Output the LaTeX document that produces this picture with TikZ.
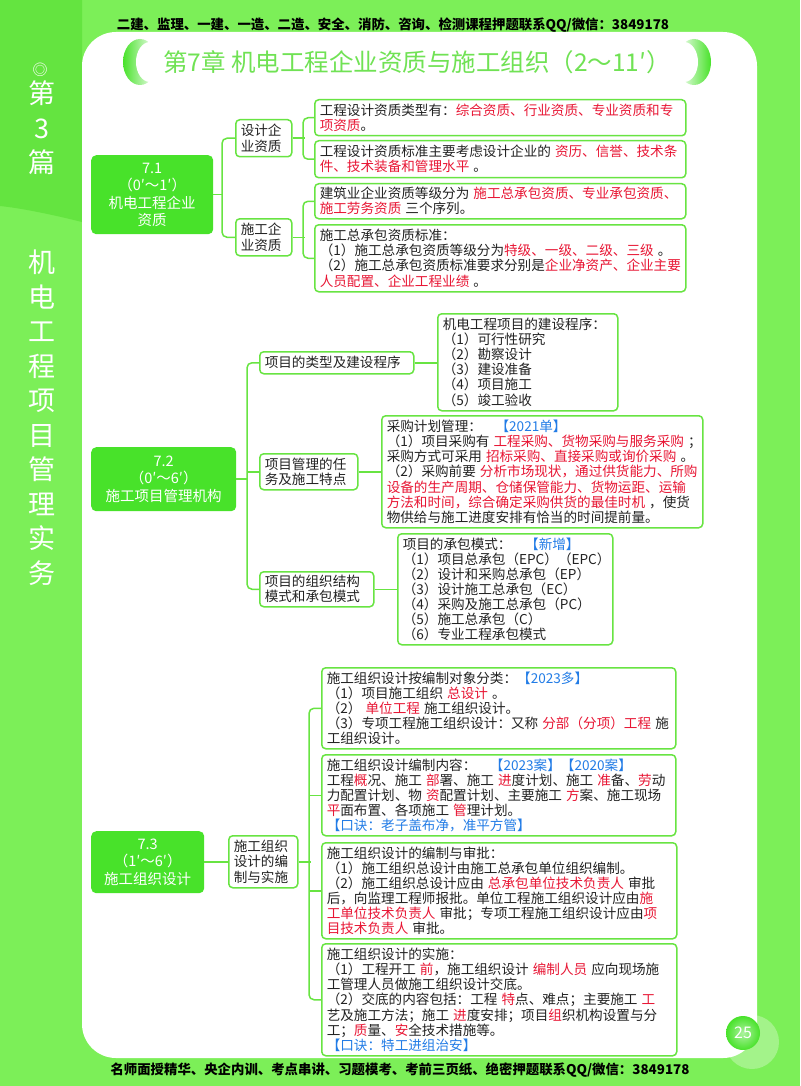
\documentclass[tikz,border=0pt]{standalone}
\usepackage{fontspec}
\setmainfont{Noto Sans CJK SC}
\usetikzlibrary{positioning}
\definecolor{bggreen}{RGB}{124,239,88}
\definecolor{bgdark}{RGB}{100,228,64}
\definecolor{nodegreen}{RGB}{72,226,42}
\definecolor{linegreen}{RGB}{104,228,66}
\definecolor{titlegreen}{RGB}{112,226,84}
\definecolor{keyred}{RGB}{232,22,52}
\definecolor{tagblue}{RGB}{34,124,230}
\definecolor{inkgray}{RGB}{34,34,34}
\newcommand{\kred}[1]{\textcolor{keyred}{#1}}
\newcommand{\kblue}[1]{\textcolor{tagblue}{#1}}

\begin{document}
\begin{tikzpicture}[x=1pt, y=-1pt,
  topic/.style={fill=nodegreen, rounded corners=5pt, text=white, align=center, anchor=north west, inner sep=2pt, font=\fontsize{14.5}{17.5}\selectfont},
  card/.style={draw=linegreen, line width=1.5pt, fill=white, rounded corners=4pt, anchor=north west, inner xsep=5pt, inner ysep=2pt, align=left, text=inkgray, text width=#1, font=\fontsize{13.6}{15.1}\selectfont, execute at begin node={\spaceskip=0.3em\relax}},
  link/.style={draw=linegreen, line width=1.5pt, rounded corners=5pt},
  sidetext/.style={text=white, align=center, font=\fontsize{27}{34.5}\selectfont},
  banner/.style={text=black, font=\bfseries\fontsize{13.4}{16}\selectfont},
]
  \useasboundingbox (0,0) rectangle (800,1086);
  \fill[bggreen] (0,0) rectangle (800,1086);
  \fill[bgdark] (0,0) -- (82,0) -- (82,222) .. controls (50,214) and (20,208) .. (0,206) -- cycle;
  \fill[white, rounded corners=34pt] (82,32) rectangle (757,1058);

  \node[banner] (head) at (393,25) {二建、监理、一建、一造、二造、安全、消防、咨询、检测课程押题联系QQ/微信：3849178};
  \node[banner] (foot) at (400,1070) {名师面授精华、央企内训、考点串讲、习题模考、考前三页纸、绝密押题联系QQ/微信：3849178};

  \shade[left color=nodegreen, right color=white] (140,62) ellipse (17pt and 23pt);
  \fill[white] (150,62) ellipse (14pt and 20pt);
  \shade[right color=nodegreen, left color=white] (694,62) ellipse (17pt and 23pt);
  \fill[white] (684,62) ellipse (14pt and 20pt);
  \node[text=titlegreen, font=\fontsize{24.5}{27}\selectfont] (title) at (417,62) {第7章 机电工程企业资质与施工组织（2～11′）};

  \node[sidetext, font=\fontsize{15}{15}\selectfont] (volmark) at (40,70) {◎};
  \node[sidetext] (volno) at (42,128) {第\\3\\篇};
  \node[sidetext] (voltitle) at (42,417.5) {机\\电\\工\\程\\项\\目\\管\\理\\实\\务};

  \node[topic, minimum width=122pt, minimum height=79pt] (k71) at (91,155) {7.1\\（0′～1′）\\机电工程企业\\资质};
  \node[card=46pt, minimum height=37pt] (sj) at (235,119) {设计企\\业资质};
  \node[card=46pt, minimum height=37pt] (sg) at (235,218) {施工企\\业资质};
  \node[card=361pt, minimum height=36pt] (da1) at (314,99) {工程设计资质类型有：\kred{综合资质、行业资质、专业资质和专}\\
    \kred{项资质}。};
  \node[card=361pt, minimum height=37pt] (da2) at (314,140) {工程设计资质标准主要考虑设计企业的~\kred{资历、信誉、技术条}\\
    \kred{件、技术装备和管理水平}~。};
  \node[card=361pt, minimum height=35pt] (db1) at (314,183) {建筑业企业资质等级分为~\kred{施工总承包资质、专业承包资质、}\\
    \kred{施工劳务资质}~三个序列。};
  \node[card=361pt, minimum height=67pt] (db2) at (314,224) {施工总承包资质标准：\\
    （1）施工总承包资质等级分为\kred{特级、一级、二级、三级}~。\\
    （2）施工总承包资质标准要求分别是\kred{企业净资产、企业主要}\\
    \kred{人员配置、企业工程业绩}~。};

  \draw[link] (sj.west) -- ++(-13,0) |- (sg.west);
  \draw[link] (k71.east) -- ++(9,0);
  \draw[link] (da1.west) -- ++(-11,0) |- (da2.west);
  \draw[link] (sj.east) -- ++(12,0);
  \draw[link] (db1.west) -- ++(-11,0) |- (db2.west);
  \draw[link] (sg.east) -- ++(12,0);

  \node[topic, minimum width=145pt, minimum height=64pt] (k72) at (91,447) {7.2\\（0′～6′）\\施工项目管理机构};
  \node[card=144pt, minimum height=22pt] (xl) at (259,351) {项目的类型及建设程序};
  \node[card=88pt, minimum height=36pt] (xr) at (259,453) {项目管理的任\\务及施工特点};
  \node[card=104pt, minimum height=35pt] (xz) at (259,571) {项目的组织结构\\模式和承包模式};
  \node[card=170pt, minimum height=97pt] (cx) at (437,313) {机电工程项目的建设程序：\\
    （1）可行性研究\\（2）勘察设计\\（3）建设准备\\（4）项目施工\\（5）竣工验收};
  \node[card=311pt, minimum height=112pt] (cg) at (381,415) {采购计划管理：\quad\kblue{【2021单】}\\
    （1）项目采购有~\kred{工程采购、货物采购与服务采购}~；\\
    采购方式可采用~\kred{招标采购、直接采购或询价采购}~。\\
    （2）采购前要~\kred{分析市场现状，通过供货能力、所购}\\
    \kred{设备的生产周期、仓储保管能力、货物运距、运输}\\
    \kred{方法和时间，综合确定采购供货的最佳时机}~，使货\\
    物供给与施工进度安排有恰当的时间提前量。};
  \node[card=205pt, minimum height=111pt] (cb) at (397,533) {项目的承包模式：\quad\kblue{【新增】}\\
    （1）项目总承包（EPC）（EPC）\\（2）设计和采购总承包（EP）\\（3）设计施工总承包（EC）\\
    （4）采购及施工总承包（PC）\\（5）施工总承包（C）\\（6）专业工程承包模式};

  \draw[link] (xl.west) -- ++(-12,0) |- (xz.west);
  \draw[link] (xr.west) -- ++(-12,0);
  \draw[link] (k72.east) -- ++(11,0);
  \draw[link] (xl.east) -- (xl.east -| cx.west);
  \draw[link] (xr.east) -- (xr.east -| cg.west);
  \draw[link] (xz.east) -- (xz.east -| cb.west);

  \node[topic, minimum width=113pt, minimum height=62pt] (k73) at (91,831) {7.3\\（1′～6′）\\施工组织设计};
  \node[card=59pt, minimum height=52pt] (ss) at (228,835) {施工组织\\设计的编\\制与实施};
  \node[card=344pt, minimum height=81pt] (z1) at (321,667) {施工组织设计按编制对象分类：\kblue{【2023多】}\\
    （1）项目施工组织~\kred{总设计}~。\\
    （2）~\kred{单位工程}~施工组织设计。\\
    （3）专项工程施工组织设计：又称~\kred{分部（分项）工程}~施\\
    工组织设计。};
  \node[card=344pt, minimum height=81pt] (z2) at (321,754) {施工组织设计编制内容：\quad\kblue{【2023案】【2020案】}\\
    工程\kred{概}况、施工~\kred{部}署、施工~\kred{进}度计划、施工~\kred{准}备、\kred{劳}动\\
    力配置计划、物~\kred{资}配置计划、主要施工~\kred{方}案、施工现场\\
    \kred{平}面布置、各项施工~\kred{管}理计划。\\
    \kblue{【口诀：老子盖布净，准平方管】}};
  \node[card=345pt, minimum height=96pt] (z3) at (321,842) {施工组织设计的编制与审批：\\
    （1）施工组织总设计由施工总承包单位组织编制。\\
    （2）施工组织总设计应由~\kred{总承包单位技术负责人}~审批\\
    后，向监理工程师报批。单位工程施工组织设计应由\kred{施}\\
    \kred{工单位技术负责人}~审批；专项工程施工组织设计应由\kred{项}\\
    \kred{目技术负责人}~审批。};
  \node[card=345pt, minimum height=112pt] (z4) at (321,943) {施工组织设计的实施：\\
    （1）工程开工~\kred{前}，施工组织设计~\kred{编制人员}~应向现场施\\
    工管理人员做施工组织设计交底。\\
    （2）交底的内容包括：工程~\kred{特}点、难点；主要施工~\kred{工}\\
    艺及施工方法；施工~\kred{进}度安排；项目\kred{组}织机构设置与分\\
    工；\kred{质}量、\kred{安}全技术措施等。\\
    \kblue{【口诀：特工进组治安】}};

  \draw[link] (k73.east) -- (k73.east -| ss.west);
  \draw[link] (z1.west) -- ++(-12,0) |- (z4.west);
  \draw[link] (z2.west) -- ++(-12,0);
  \draw[link] (z3.west) -- ++(-12,0);
  \draw[link] (ss.east) -- ++(12,0);

  \fill[white, opacity=0.3] (752,1042) circle (27pt);
  \shade[inner color=white!55!nodegreen, outer color=nodegreen] (743,1033) circle (17pt);
  \node[text=white, font=\fontsize{16}{16}\selectfont] (pgnum) at (743,1033) {25};
\end{tikzpicture}
\end{document}
